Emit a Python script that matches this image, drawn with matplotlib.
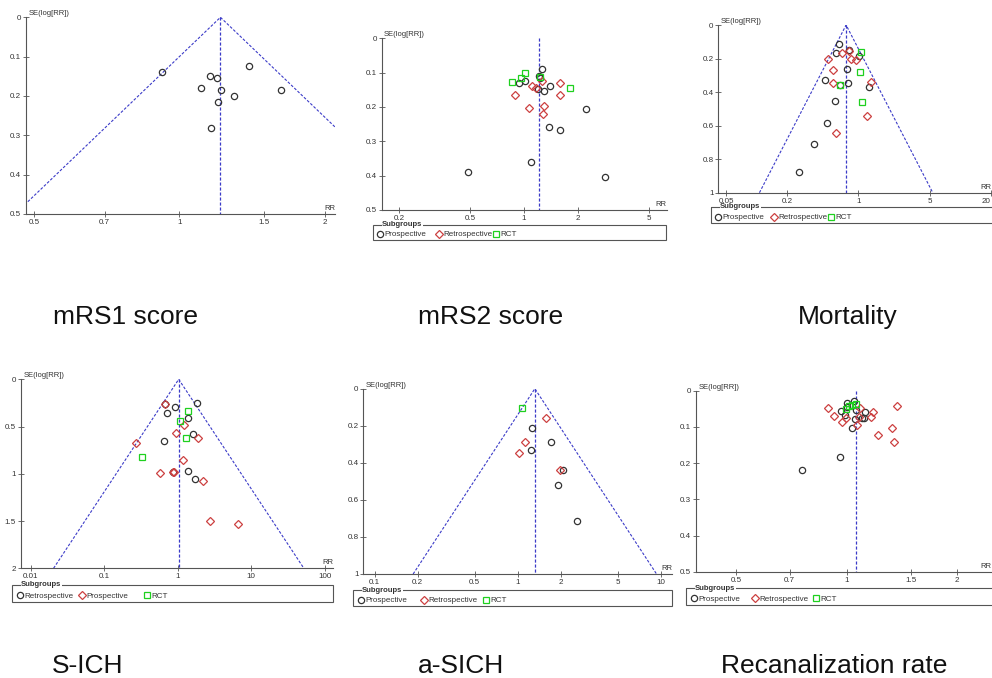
import matplotlib
matplotlib.use("Agg")
import matplotlib.pyplot as plt
import numpy as np

W, H = 992, 678
plt.rcParams['font.family'] = ['Liberation Sans', 'DejaVu Sans']

# mRS1 score
mrs1_rr = [0.921, 1.157, 1.195, 1.107, 1.218, 1.201, 1.300, 1.165, 1.394, 1.624]
mrs1_se = [0.138, 0.149, 0.154, 0.180, 0.184, 0.215, 0.200, 0.281, 0.123, 0.184]
mrs1_pooled = 1.216

# mRS2 score
mrs2_pro_rr = [1.266, 1.213, 1.229, 1.009, 0.934, 1.193, 1.300, 1.398, 2.223, 1.386, 1.583, 1.094, 0.484, 2.84]
mrs2_pro_se = [0.090, 0.109, 0.117, 0.123, 0.129, 0.148, 0.154, 0.139, 0.206, 0.257, 0.268, 0.360, 0.390, 0.405]
mrs2_retro_rr = [0.887, 1.109, 1.167, 1.266, 1.597, 1.590, 1.071, 1.294, 1.283]
mrs2_retro_se = [0.166, 0.138, 0.144, 0.123, 0.131, 0.164, 0.202, 0.197, 0.221]
mrs2_rct_rr = [0.860, 0.962, 1.017, 1.229, 1.816]
mrs2_rct_se = [0.128, 0.117, 0.102, 0.112, 0.146]
mrs2_pooled = 1.218

# Mortality
mort_pro_rr = [0.645, 0.608, 0.803, 1.015, 0.768, 0.474, 0.791, 0.665, 1.273, 0.585, 0.496, 0.369, 0.261]
mort_pro_se = [0.113, 0.169, 0.149, 0.183, 0.260, 0.328, 0.344, 0.356, 0.368, 0.451, 0.586, 0.710, 0.877]
mort_retro_rr = [0.503, 0.696, 0.815, 0.847, 0.941, 0.560, 0.568, 1.313, 1.226, 0.608]
mort_retro_se = [0.203, 0.165, 0.153, 0.203, 0.209, 0.270, 0.344, 0.340, 0.543, 0.646]
mort_rct_rr = [1.054, 1.031, 1.095, 0.665]
mort_rct_se = [0.163, 0.280, 0.461, 0.356]
mort_pooled = 0.756

# S-ICH
sich_retro_rr = [0.680, 0.929, 1.853, 0.716, 1.382, 1.600, 0.652, 1.382, 1.739, 0.86]
sich_retro_se = [0.261, 0.296, 0.247, 0.353, 0.413, 0.582, 0.653, 0.966, 1.051, 0.98]
sich_pro_rr = [0.672, 0.271, 1.207, 0.949, 1.890, 1.195, 0.569, 0.855, 0.882, 2.234, 2.781, 6.62]
sich_pro_se = [0.265, 0.674, 0.483, 0.568, 0.624, 0.854, 0.988, 0.977, 0.984, 1.072, 1.496, 1.531]
sich_rct_rr = [1.397, 1.076, 1.312, 0.324]
sich_rct_se = [0.335, 0.437, 0.624, 0.822]
sich_pooled = 1.03

# a-SICH
asich_pro_rr = [1.262, 1.699, 1.248, 2.076, 1.913, 2.592]
asich_pro_se = [0.214, 0.286, 0.333, 0.441, 0.518, 0.712]
asich_retro_rr = [1.584, 1.120, 1.027, 1.967]
asich_retro_se = [0.160, 0.288, 0.345, 0.441]
asich_rct_rr = [1.079]
asich_rct_se = [0.103]
asich_pooled = 1.318

# Recanalization rate
recan_pro_rr = [1.002, 1.045, 1.000, 0.965, 0.992, 1.059, 1.054, 1.125, 1.116, 1.104, 1.032, 0.959, 0.755]
recan_pro_se = [0.034, 0.029, 0.044, 0.055, 0.066, 0.052, 0.077, 0.060, 0.074, 0.076, 0.104, 0.183, 0.220]
recan_retro_rr = [0.890, 0.927, 0.973, 0.998, 1.090, 1.081, 1.070, 1.166, 1.181, 1.219, 1.372, 1.332, 1.344]
recan_retro_se = [0.047, 0.071, 0.085, 0.076, 0.047, 0.073, 0.095, 0.073, 0.059, 0.123, 0.042, 0.104, 0.142]
recan_rct_rr = [0.996, 1.015, 1.036, 1.061]
recan_rct_se = [0.050, 0.042, 0.040, 0.037]
recan_pooled = 1.061

BLACK, RED, GREEN, BLUE = '#333333', '#cc4040', '#1fd01f', '#3b3bc8'
TXT = '#333333'

fig = plt.figure(figsize=(W/100, H/100), dpi=100)


def funnel(box, xlim, ymax, xticks, yticks, pooled, groups, diag=True, rr_right=None):
    l, t, r, b = box
    ax = fig.add_axes([l/W, 1-b/H, (r-l)/W, (b-t)/H])
    ax.set_xscale('log')
    ax.set_xlim(*xlim)
    ax.set_ylim(ymax, 0)
    ax.set_xticks(xticks)
    ax.set_xticklabels([f'{v:g}' for v in xticks])
    ax.set_yticks(yticks)
    ax.set_yticklabels([f'{v:g}' for v in yticks])
    ax.minorticks_off()
    ax.tick_params(direction='inout', length=4, width=0.6, labelsize=5.8,
                   colors='#555555', labelcolor=TXT, pad=1.5)
    for s in ['top', 'right']:
        ax.spines[s].set_visible(False)
    for s in ['left', 'bottom']:
        ax.spines[s].set_color('#555555')
        ax.spines[s].set_linewidth(0.8)
    ax.patch.set_alpha(0)
    ax.plot([pooled, pooled], [0, ymax], color=BLUE, ls=(0, (2.5, 1.5)), lw=0.9)
    if diag:
        lo = pooled * np.exp(-1.96 * ymax)
        hi = pooled * np.exp(1.96 * ymax)
        ax.plot([lo, pooled, hi], [ymax, 0, ymax], color=BLUE, ls=(0, (2.5, 1.5)), lw=0.8)
    for rr, se, m, c, ms in groups:
        ax.plot(rr, se, ls='none', marker=m, ms=ms, mfc='none', mec=c, mew=0.9, clip_on=False)
    ax.text(0.008, 1.0, 'SE(log[RR])', transform=ax.transAxes, fontsize=5.5,
            color=TXT, va='bottom', ha='left')
    if rr_right is None:
        ax.text(1.0, 0.01, 'RR', transform=ax.transAxes, fontsize=5.5,
                color=TXT, va='bottom', ha='right')
    else:
        ax.text((rr_right - l) / (r - l), 0.01, 'RR', transform=ax.transAxes, fontsize=5.5,
                color=TXT, va='bottom', ha='right')
    return ax


circ = ('o', BLACK, 4.5)
dia = ('D', RED, 4.2)
sq = ('s', GREEN, 4.0)


def grp(rr, se, style):
    return (rr, se) + style


funnel((26, 17.3, 335, 214), (0.481, 2.10), 0.5, [0.5, 0.7, 1, 1.5, 2],
       [0, 0.1, 0.2, 0.3, 0.4, 0.5], mrs1_pooled, [grp(mrs1_rr, mrs1_se, circ)])

funnel((381.7, 38.3, 666.7, 210), (0.1596, 6.29), 0.5, [0.2, 0.5, 1, 2, 5],
       [0, 0.1, 0.2, 0.3, 0.4, 0.5], mrs2_pooled,
       [grp(mrs2_pro_rr, mrs2_pro_se, circ), grp(mrs2_retro_rr, mrs2_retro_se, dia),
        grp(mrs2_rct_rr, mrs2_rct_se, sq)], diag=False)

ax_m = funnel((718.3, 25, 999, 192.7), (0.042, 24), 1, [0.05, 0.2, 1, 5, 20],
              [0, 0.2, 0.4, 0.6, 0.8, 1], mort_pooled,
              [grp(mort_pro_rr, mort_pro_se, circ), grp(mort_retro_rr, mort_retro_se, dia),
               grp(mort_rct_rr, mort_rct_se, sq)], rr_right=991)
ax_m.get_xticklabels()[-1].set_ha('right')

funnel((20.7, 379.3, 333.4, 568.3), (0.0073, 131), 2, [0.01, 0.1, 1, 10, 100],
       [0, 0.5, 1, 1.5, 2], sich_pooled,
       [grp(sich_retro_rr, sich_retro_se, circ), grp(sich_pro_rr, sich_pro_se, dia),
        grp(sich_rct_rr, sich_rct_se, sq)])

funnel((363.3, 388.7, 672, 574), (0.0832, 12.0), 1, [0.1, 0.2, 0.5, 1, 2, 5, 10],
       [0, 0.2, 0.4, 0.6, 0.8, 1], asich_pooled,
       [grp(asich_pro_rr, asich_pro_se, circ), grp(asich_retro_rr, asich_retro_se, dia),
        grp(asich_rct_rr, asich_rct_se, sq)])

funnel((696, 390.7, 997, 572), (0.389, 2.57), 0.5, [0.5, 0.7, 1, 1.5, 2],
       [0, 0.1, 0.2, 0.3, 0.4, 0.5], recan_pooled,
       [grp(recan_pro_rr, recan_pro_se, circ), grp(recan_retro_rr, recan_retro_se, dia),
        grp(recan_rct_rr, recan_rct_se, sq)], diag=False, rr_right=991)

# overlay in pixel units for legends and captions
ov = fig.add_axes([0, 0, 1, 1])
ov.set_xlim(0, W)
ov.set_ylim(H, 0)
ov.axis('off')


def legend_box(x0, y0, x1, y1, offs, labels):
    ov.add_patch(plt.Rectangle((x0, y0), x1 - x0, y1 - y0, fill=False, ec='#555555', lw=0.8))
    ov.text(x0 + 9, y0, 'Subgroups', fontsize=5.5, fontweight='bold', color=TXT,
            va='center', ha='left', bbox=dict(fc='white', ec='none', pad=0.3))
    ym = y0 + (y1 - y0) * 0.6
    for off, lab, st in zip(offs, labels, [circ, dia, sq]):
        ov.plot([x0 + off + 2], [ym], ls='none', marker=st[0], ms=st[2],
                mfc='none', mec=st[1], mew=0.9)
        ov.text(x0 + off + 6, ym + 1, lab, fontsize=5.8, color=TXT, va='center', ha='left')


std = ['Prospective', 'Retrospective', 'RCT']
legend_box(373, 225, 666, 240, [5, 64, 121], std)
legend_box(711, 207, 1000, 223, [5, 61, 118], std)
legend_box(12, 585, 333, 602, [6, 68, 133], ['Retrospective', 'Prospective', 'RCT'])
legend_box(353, 590, 672, 606, [6, 69, 131], std)
legend_box(686, 588, 1000, 605, [6, 67, 128], std)

captions = [('mRS1 score', 53, 324), ('mRS2 score', 418, 324), ('Mortality', 798, 324),
            ('S-ICH', 52, 673), ('a-SICH', 418, 673), ('Recanalization rate', 721, 673)]
for txt, x, y in captions:
    ov.text(x, y, txt, fontsize=19, color='#111111', va='baseline', ha='left')

fig.savefig('out.png', dpi=100)
